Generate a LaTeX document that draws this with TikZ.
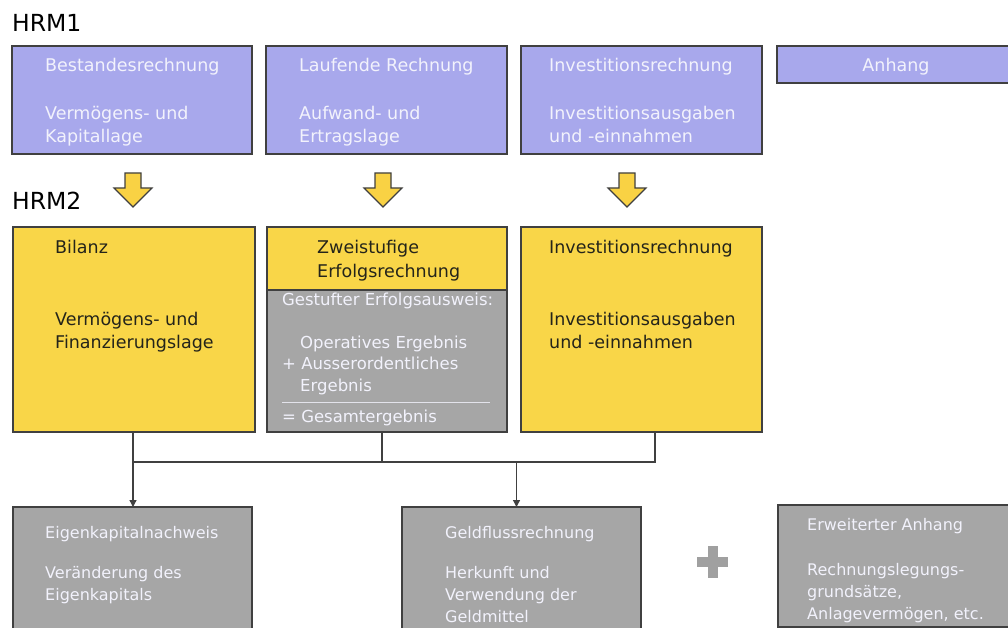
\documentclass[tikz,border=0pt]{standalone}
\usepackage{fontspec}
\setmainfont{DejaVu Sans}
\usetikzlibrary{arrows.meta, positioning, calc}
\definecolor{cpurple}{HTML}{A8A8EC}
\definecolor{cyellow}{HTML}{F9D648}
\definecolor{cgrey}{HTML}{A6A6A6}
\definecolor{cborder}{HTML}{404040}
\definecolor{clight}{HTML}{F2F2FC}
\definecolor{cdark}{HTML}{24241A}
\definecolor{cplus}{HTML}{A0A0A0}
\tikzset{
  every picture/.style={font=\fontsize{17.5}{21}\selectfont},
  box/.style={draw=cborder, fill=#1, line width=1.6pt, anchor=north west, inner sep=0pt, outer sep=0pt},
  box/.default=cgrey,
  lt/.style={anchor=base west, inner sep=0pt, text=clight},
  dk/.style={anchor=base west, inner sep=0pt, text=cdark},
  head/.style={anchor=base west, inner sep=0pt, font=\fontsize{23.5}{26}\selectfont},
  link/.style={draw=cborder, line width=1.3pt},
  tip/.style={link, -{Triangle[length=7pt, width=7pt]}},
  fatarrow/.style={draw=cborder, fill=cyellow!95!orange, line width=1.1pt, line join=miter},
}
\begin{document}
\begin{tikzpicture}[x=1pt, y=-1pt]
  \useasboundingbox (0,0) rectangle (1008,628);
  % HRM1
  \node[head] (hrmone) at (12,32) {HRM1};
  \node[box=cpurple, minimum width=240, minimum height=108] (bestand) at (12,46) {};
  \node[box=cpurple, minimum width=241, minimum height=108] (laufend) at (266,46) {};
  \node[box=cpurple, minimum width=241, minimum height=108] (invone) at (521,46) {};
  \node[box=cpurple, minimum width=240, minimum height=37] (anhang) at (777,46) {};
  \foreach \y/\t [count=\i] in {72/Bestandesrechnung, 120/Vermögens- und, 143/Kapitallage}
    \node[lt] (bt\i) at (45,\y) {\t};
  \foreach \y/\t [count=\i] in {72/Laufende Rechnung, 120/Aufwand- und, 143/Ertragslage}
    \node[lt] (lt\i) at (299,\y) {\t};
  \foreach \y/\t [count=\i] in {72/Investitionsrechnung, 120/Investitionsausgaben, 143/und -einnahmen}
    \node[lt] (it\i) at (549,\y) {\t};
  \node[lt, anchor=base] (at1) at (896,72) {Anhang};
  % yellow arrows
  \foreach \ax in {133,383,627}
    \draw[fatarrow] (\ax-8,173) -- (\ax+8,173) -- (\ax+8,188) -- (\ax+19,188) -- (\ax,207)
      -- (\ax-19,188) -- (\ax-8,188) -- cycle;
  % HRM2
  \node[head] (hrmtwo) at (12,210) {HRM2};
  \node[box=cyellow, minimum width=242, minimum height=205] (bilanz) at (13,227) {};
  \node[box=cyellow, minimum width=240, minimum height=63] (erfolgtop) at (267,227) {};
  \node[box=cgrey, minimum width=240, minimum height=142] (erfolg) at (267,290) {};
  \node[box=cyellow, minimum width=241, minimum height=205] (invtwo) at (521,227) {};
  \foreach \y/\t [count=\i] in {253/Bilanz, 325/Vermögens- und, 348/Finanzierungslage}
    \node[dk] (bl\i) at (55,\y) {\t};
  \foreach \y/\t [count=\i] in {253/Zweistufige, 277/Erfolgsrechnung}
    \node[dk] (ze\i) at (317,\y) {\t};
  \begin{scope}[font=\fontsize{16.5}{19}\selectfont]
    \node[lt] (ge1) at (282,305) {Gestufter Erfolgsausweis:};
    \node[lt] (ge2) at (300,348) {Operatives Ergebnis};
    \node[lt] (ge3) at (282,369) {+ Ausserordentliches};
    \node[lt] (ge4) at (300,391) {Ergebnis};
    \node[lt] (ge5) at (282,422) {= Gesamtergebnis};
    \draw[draw=clight!80!cgrey, line width=0.8pt] (282,402) -- (490,402);
  \end{scope}
  \foreach \y/\t [count=\i] in {253/Investitionsrechnung, 325/Investitionsausgaben, 348/und -einnahmen}
    \node[dk] (iv\i) at (549,\y) {\t};
  % bottom row
  \node[box, minimum width=239, minimum height=140] (eigen) at (13,507) {};
  \node[box, minimum width=239, minimum height=140] (geld) at (402,507) {};
  \node[box, minimum width=240, minimum height=122] (erwanh) at (778,505) {};
  \begin{scope}[font=\fontsize{16}{19}\selectfont]
    \foreach \y/\t [count=\i] in {538/Eigenkapitalnachweis, 578/Veränderung des, 600/Eigenkapitals}
      \node[lt] (ek\i) at (45,\y) {\t};
    \foreach \y/\t [count=\i] in {538/Geldflussrechnung, 578/Herkunft und, 600/Verwendung der, 622/Geldmittel}
      \node[lt] (gf\i) at (445,\y) {\t};
    \foreach \y/\t [count=\i] in {530/Erweiterter Anhang, 575/Rechnungslegungs-, 597/{grundsätze,}, 619/{Anlagevermögen, etc.}}
      \node[lt] (ea\i) at (807,\y) {\t};
  \end{scope}
  \fill[cplus] (697,557) rectangle (728,567);
  \fill[cplus] (707.5,546) rectangle (717.5,578);
  % connectors
  \coordinate (busl) at (133,462);
  \coordinate (busr) at (655,462);
  \draw[link] (bilanz.south -| busl) -- (busl) -- (busr) -- (busr |- invtwo.south);
  \draw[link] ([xshift=-5pt]erfolg.south) -- ([xshift=-5pt]erfolg.south |- busl);
  \draw[tip] (busl) -- (eigen.north -| busl);
  \draw[tip] ([xshift=-5pt]geld.north |- busl) -- ([xshift=-5pt]geld.north);
\end{tikzpicture}
\end{document}
